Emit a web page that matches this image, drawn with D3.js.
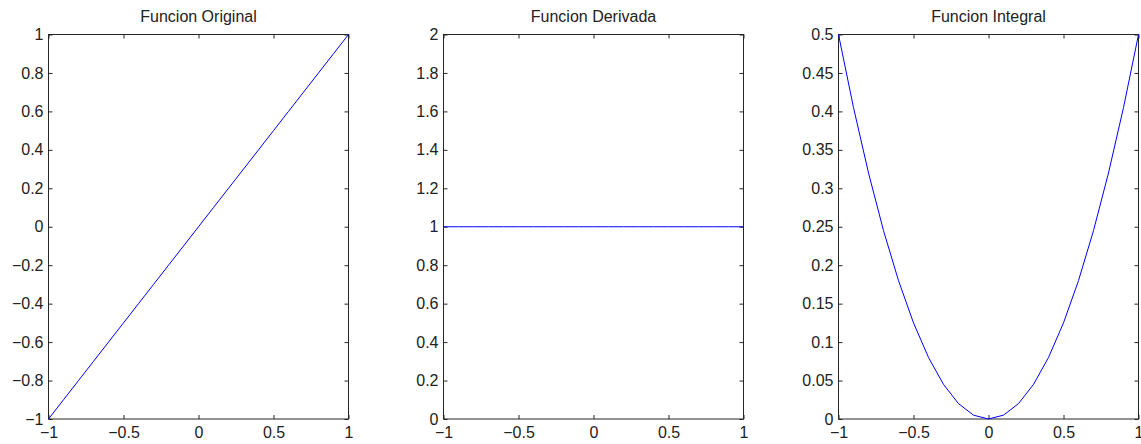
<!DOCTYPE html>
<html>
<head>
<meta charset="utf-8">
<script src="https://cdn.jsdelivr.net/npm/d3@7"></script>
<style>
body { margin: 0; background: #fff; }
text { font-family: "Liberation Sans", Arial, sans-serif; fill: #222; }
</style>
</head>
<body>
<div class="chart"></div>
<script>
// sample points, x from -1 to 1 step 0.1
var xs = [-1, -0.9, -0.8, -0.7, -0.6, -0.5, -0.4, -0.3, -0.2, -0.1, 0, 0.1, 0.2, 0.3, 0.4, 0.5, 0.6, 0.7, 0.8, 0.9, 1];
var original = [-1, -0.9, -0.8, -0.7, -0.6, -0.5, -0.4, -0.3, -0.2, -0.1, 0, 0.1, 0.2, 0.3, 0.4, 0.5, 0.6, 0.7, 0.8, 0.9, 1];
var derivada = [1, 1, 1, 1, 1, 1, 1, 1, 1, 1, 1, 1, 1, 1, 1, 1, 1, 1, 1, 1, 1];
var integral = [0.5, 0.405, 0.32, 0.245, 0.18, 0.125, 0.08, 0.045, 0.02, 0.005, 0, 0.005, 0.02, 0.045, 0.08, 0.125, 0.18, 0.245, 0.32, 0.405, 0.5];

var titles = ["Funcion Original", "Funcion Derivada", "Funcion Integral"];
var xTicks = [-1, -0.5, 0, 0.5, 1];
var yTicks1 = [-1, -0.8, -0.6, -0.4, -0.2, 0, 0.2, 0.4, 0.6, 0.8, 1];
var yTicks2 = [0, 0.2, 0.4, 0.6, 0.8, 1, 1.2, 1.4, 1.6, 1.8, 2];
var yTicks3 = [0, 0.05, 0.1, 0.15, 0.2, 0.25, 0.3, 0.35, 0.4, 0.45, 0.5];

var panels = [
    {title: titles[0], ys: original, yDomain: [-1, 1], yTicks: yTicks1, left: 48.5},
    {title: titles[1], ys: derivada, yDomain: [0, 2], yTicks: yTicks2, left: 443.5},
    {title: titles[2], ys: integral, yDomain: [0, 0.5], yTicks: yTicks3, left: 838.5}
];

var W = 1141, H = 444, pw = 300, plotTop = 34.5, plotBottom = 419;

var svg = d3.select(".chart").append("svg")
    .attr("width", W)
    .attr("height", H);

function fmt(v) {
    return String(v).replace("-", "\u2212");
}

panels.forEach(function (p) {
    var x = d3.scaleLinear().domain([-1, 1]).range([p.left, p.left + pw]);
    var y = d3.scaleLinear().domain(p.yDomain).range([plotBottom, plotTop]);
    var g = svg.append("g");

    g.append("rect")
        .attr("x", p.left).attr("y", plotTop)
        .attr("width", pw).attr("height", plotBottom - plotTop)
        .attr("fill", "none").attr("stroke", "#262626").attr("stroke-width", 1);

    // inner ticks, MATLAB style, on all four sides
    g.append("g").attr("transform", "translate(0," + plotBottom + ")")
        .call(d3.axisBottom(x).tickValues(xTicks).tickSizeInner(-4).tickSizeOuter(0).tickPadding(8).tickFormat(fmt));
    g.append("g").attr("transform", "translate(0," + plotTop + ")")
        .call(d3.axisTop(x).tickValues(xTicks).tickSizeInner(-4).tickSizeOuter(0).tickFormat(""));
    g.append("g").attr("transform", "translate(" + p.left + ",0)")
        .call(d3.axisLeft(y).tickValues(p.yTicks).tickSizeInner(-4).tickSizeOuter(0).tickPadding(5).tickFormat(fmt));
    g.append("g").attr("transform", "translate(" + (p.left + pw) + ",0)")
        .call(d3.axisRight(y).tickValues(p.yTicks).tickSizeInner(-4).tickSizeOuter(0).tickFormat(""));

    g.selectAll(".domain").remove();
    g.selectAll(".tick line").attr("stroke", "#262626");
    g.selectAll(".tick text").attr("font-size", 16).attr("fill", "#222")
        .style("font-family", "'Liberation Sans', Arial, sans-serif");

    var line = d3.line()
        .x(function (d, i) { return x(xs[i]); })
        .y(function (d) { return y(d); });

    g.append("path")
        .datum(p.ys)
        .attr("d", line)
        .attr("fill", "none")
        .attr("stroke", "#0000ff")
        .attr("stroke-width", 1);

    g.append("text")
        .attr("x", p.left + pw / 2)
        .attr("y", 21.5)
        .attr("text-anchor", "middle")
        .attr("font-size", 16)
        .text(p.title);
});
</script>
</body>
</html>
